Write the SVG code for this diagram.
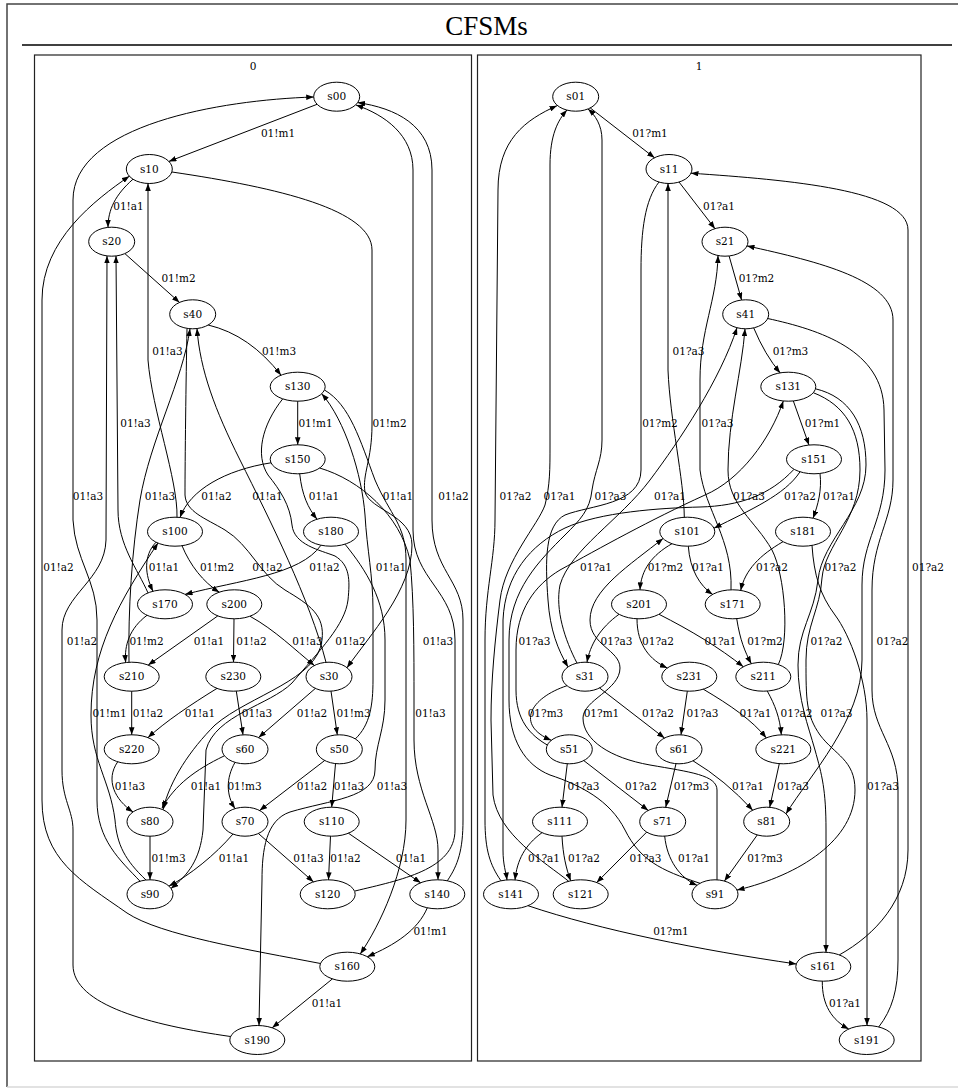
<svg xmlns="http://www.w3.org/2000/svg" width="958" height="1088" viewBox="0 0 958 1088">
<defs>
<marker id="a" markerWidth="7.5" markerHeight="5.6" refX="7.5" refY="2.8" orient="auto" markerUnits="userSpaceOnUse"><path d="M0,0 L7.5,2.8 L0,5.6 z" fill="#000"/></marker>
<style>
.frame{fill:none;stroke:#444;stroke-width:1.5}
.cl{fill:none;stroke:#222;stroke-width:1.2}
.n ellipse{fill:none;stroke:#000;stroke-width:1}
text{font-family:"DejaVu Serif","Liberation Serif",serif;font-size:10.5px;fill:#000;text-anchor:middle}
.title{font-family:"Liberation Serif","DejaVu Serif",serif;font-size:27px}
.e path{fill:none;stroke:#000;stroke-width:1;marker-end:url(#a)}
</style>
</defs>
<rect width="958" height="1088" fill="#fff"/>
<path class="frame" d="M960,4 L7,4 L7,1087"/>
<line x1="7" y1="1087" x2="960" y2="1087" stroke="#d8d8d8" stroke-width="1.5"/>
<text class="title" x="486.5" y="35">CFSMs</text>
<line x1="22" y1="45" x2="952" y2="45" stroke="#000" stroke-width="1.3"/>
<g id="cluster0"><rect class="cl" x="34.5" y="55" width="437" height="1006"/><text x="253" y="69.5">0</text></g>
<g id="cluster1"><rect class="cl" x="477.5" y="55" width="443.5" height="1006"/><text x="699" y="69.5">1</text></g>

<g id="connectors">
<g class="e">
<path d="M317.1,104.3 L168.9,161.4"/>
<path d="M133,179.2 C115,195 108,210 108,227.4"/>
<path d="M124.9,253.6 L179.5,302.4"/>
<path d="M208.2,325 Q250,335 281,375.2"/>
<path d="M297.7,401.2 L297.7,444.8"/>
<path d="M271,462.8 C225,470 190,490 180,517.4"/>
<path d="M299.7,473.8 C302,495 308,508 317,519.2"/>
<path d="M156,542.2 C143,556 145,575 153,591.3"/>
<path d="M182,545.7 C190,565 203,582 219.3,592.2"/>
<path d="M321,545.2 C300,575 240,580 185,594.4"/>
<path d="M147,615.3 C130,628 124,645 125.7,662.5"/>
<path d="M217.8,615.9 L148.2,665.1"/>
<path d="M234,618.8 L233.5,662.2"/>
<path d="M249.9,616.2 C275,630 295,650 314.4,665.5"/>
<path d="M131.7,691.2 L131.7,734.8"/>
<path d="M217,688.4 C190,705 165,722 148,737.6"/>
<path d="M236.3,691.1 L243,734.8"/>
<path d="M315.4,688.4 L258.6,737.6"/>
<path d="M331,691.1 L337.3,734.8"/>
<path d="M117.7,761.8 C105,780 115,800 133,811.9"/>
<path d="M224,756 C195,770 175,785 162,808"/>
<path d="M235,762.4 C226,778 226,795 235,808.6"/>
<path d="M324.7,760.5 L259.6,810.5"/>
<path d="M335.5,763.7 L331.7,807.2"/>
<path d="M150,836.2 L150,879.8"/>
<path d="M233,834 C215,855 190,875 169,886.1"/>
<path d="M258.4,833.5 L313.5,881.9"/>
<path d="M330.5,836.2 L328.5,879.8"/>
<path d="M348.4,833.2 L420.6,882.8"/>
<path d="M427.3,907.8 C418,930 395,945 367.3,956.7"/>
<path d="M332.4,978.9 L272.2,1027.8"/>
<path d="M172,172 C280,188 372,210 372,250 L372,425 C372,460 362,475 365,492 C370,510 412,515 412,545 C412,590 370,635 347,667.7"/>
<path d="M355,891 C400,880 455,870 455,830 L455,640 C455,590 413,580 413,530 L413,170 C413,135 385,115 356,105"/>
<path d="M447.3,880.8 C458,865 463,850 463,820 L463,620 C463,580 432,570 432,520 L432,170 C432,125 395,108 357.7,102.6"/>
<path d="M140,881.2 C120,860 97,840 97,800 L97,620 C97,580 75,560 73,520 L73,200 C73,125 220,100 313.7,97"/>
<path d="M230.5,1036.5 C150,1025 73,1005 73,965 L73,830 C73,810 62,800 62,770 L62,630 C62,595 105,580 106,540 L107,255.9"/>
<path d="M146,880 C125,860 117,845 115,820 C110,780 91,760 91,715 C91,650 120,600 158,543"/>
<path d="M148,592.9 C138,570 118,545 118,510 L116,255.9"/>
<path d="M177,517.3 C178,480 152,410 148,360 L148,183.5"/>
<path d="M129,662.3 C128,610 132,550 140,500 C150,440 183,380 190,328.7"/>
<path d="M326,662.3 C310,600 270,520 240,460 C215,410 200,370 197,328.5"/>
<path d="M187,328.8 C186,380 185,460 185,495 C186,512 205,518 225,530 C250,545 260,575 285,590 C310,605 325,615 322,640 C318,680 250,695 215,725 C190,750 170,780 163,809.7"/>
<path d="M282.7,398.9 C262,425 255,455 268,475 C280,490 290,505 292,525 C294,545 320,550 335,556 C350,565 350,580 348,600 C345,625 320,650 292,683 C270,705 215,715 206,750 L203,830 C200,860 188,875 171,888.4"/>
<path d="M355.3,738.9 C370,725 373,705 373,680 L373,610 C373,575 367,550 365,515 C362,475 345,420 321.7,393.8"/>
<path d="M320.5,963.5 C250,950 160,935 127,913 C80,880 42,860 42,800 L42,300 C42,240 95,200 129.3,176.2"/>
<path d="M345,544.2 C366,570 385,600 385,640 L385,700 C385,730 375,745 375,770 C375,798 330,800 290,812 C266,820 262,850 262,880 L259,1025.5"/>
<path d="M319.7,468 C360,480 400,515 410,560 C414,600 414,650 414,700 L414,740 C414,790 438,820 438,850 L438,879.8"/>
<path d="M324.5,390 C350,405 360,440 375,480 C390,515 406,525 406,560 L406,820 C406,870 380,925 360.3,953.9"/>
<path d="M590.2,107.9 L654.5,157.8"/>
<path d="M679,182 L715,228.7"/>
<path d="M729.1,256 L741.6,300"/>
<path d="M753.7,327.9 Q765,355 780.2,372.9"/>
<path d="M793.3,400.9 L809,445.1"/>
<path d="M800,471.8 C785,495 750,510 714,528.2"/>
<path d="M820,473.5 C822,490 818,505 813,518.2"/>
<path d="M672,543.7 C652,555 641,570 640,589.8"/>
<path d="M688.3,546.2 C690,570 700,586 712.7,594.4"/>
<path d="M783,541.7 C760,555 745,570 740.7,590.4"/>
<path d="M619,614.3 C600,628 590,645 587,662.2"/>
<path d="M637,618.8 C637,645 650,660 667.3,668"/>
<path d="M659,614.3 C690,630 720,648 743.3,666.8"/>
<path d="M736.7,618.6 C740,640 745,652 751.3,663.7"/>
<path d="M567,685.7 C530,698 515,725 551.3,740.3"/>
<path d="M599.5,687.9 L664.5,738.1"/>
<path d="M687.3,691.2 L681,734.8"/>
<path d="M703.3,689.2 C730,705 752,720 766.3,737.9"/>
<path d="M767.3,691.1 C775,705 780,718 781.3,734.8"/>
<path d="M567.3,763.7 L562,807.2"/>
<path d="M583.8,760.6 L648.2,810.4"/>
<path d="M676,763.7 L665.7,807.3"/>
<path d="M693,760.8 Q725,780 752.7,810.2"/>
<path d="M779.3,763.6 L769.7,807.3"/>
<path d="M542,832.7 C525,845 517,860 515,880"/>
<path d="M562,836.2 C563,855 566,868 570.7,880.8"/>
<path d="M646.7,832.1 L596.7,882.5"/>
<path d="M664.7,836.1 C667,860 680,878 697,885.3"/>
<path d="M757.3,834.9 L724.4,881.1"/>
<path d="M528,905.7 C600,930 700,950 796.3,964"/>
<path d="M822.3,981.2 C822,1005 832,1020 848.7,1029"/>
<path d="M659,182 C645,200 641,230 641,270 L641,470 C641,505 590,505 565,515 C545,525 545,560 548,600 C550,630 558,650 568,666.9"/>
<path d="M568.7,881.3 C545,862 498,835 493,795 L491,720 C491,680 495,640 500,600 C505,560 538,525 545,505 C550,485 550,470 550,445 L550,165 C550,135 558,120 567,110"/>
<path d="M501,880.8 C490,865 485,850 485,820 L485,640 C485,590 495,560 495,520 L498,190 C498,140 525,120 557,105.7"/>
<path d="M700,883.3 C660,870 640,860 625,830 C610,800 580,785 550,775 C525,765 509,740 509,700 L509,640 C509,590 540,560 565,535 C580,520 590,510 592,490 C595,470 602,460 602,440 L602,140 C602,125 595,115 588,109"/>
<path d="M878.7,1027 C892,1010 898,990 898,960 L898,790 C898,745 872,730 872,690 L872,590 C872,540 893,520 893,480 L893,320 C893,280 820,262 747,245.9"/>
<path d="M717,879.9 L717,790 C717,775 690,772 650,765 C610,758 583,740 583,718 C583,700 620,690 620,668 C620,650 590,645 590,620 C590,590 630,565 663,538.5"/>
<path d="M731,589.8 C733,540 705,510 700,470 L700,380 C700,330 717,300 718,255.5"/>
<path d="M684.3,517.3 C684,480 670,420 668,370 L668,183.5"/>
<path d="M778.3,664.6 C790,640 785,575 772,550 C755,520 728,505 728,470 C728,420 742,370 745,328.8"/>
<path d="M577,663.1 C565,640 555,610 560,585 C570,550 620,520 650,480 C680,440 720,380 737,327.7"/>
<path d="M767.7,318.5 C820,330 883,350 884,410 L885,470 C885,520 862,540 862,585 L862,660 C862,720 810,775 786,813.8"/>
<path d="M813.3,392.7 C845,405 860,430 860,470 C860,520 825,545 822,578 C820,610 806,625 806,660 C806,700 806,715 820,735 C835,755 855,760 855,790 C855,840 800,875 737,890.1"/>
<path d="M547.3,745 C530,735 516,720 516,690 L516,650 C516,610 535,585 560,570 C600,548 650,520 705,495 C740,480 770,440 783.3,401"/>
<path d="M812,545.4 C814,575 820,595 835,615 C850,635 867,680 867,720 L867,1025.5"/>
<path d="M839.3,954.9 C875,935 908,900 908,850 L908,230 C908,190 790,180 691,173.2"/>
<path d="M794,469.3 C770,495 740,506 700,507 C660,508 600,512 565,528 C530,545 505,575 503,620 L503,850 C503,865 506,872 507,880"/>
<path d="M815.5,388.8 C850,397 866,425 866,465 C866,510 822,540 818,580 C814,615 798,630 798,665 C798,700 808,725 815,750 C822,775 826,790 826,830 L826,952.3"/>
</g>
<g id="edge-labels">
<text x="278" y="136.7">01!m1</text>
<text x="128.5" y="209.7">01!a1</text>
<text x="178.5" y="281.7">01!m2</text>
<text x="279" y="354.7">01!m3</text>
<text x="167.5" y="354.7">01!a3</text>
<text x="135.5" y="426.7">01!a3</text>
<text x="315.5" y="426.7">01!m1</text>
<text x="389.5" y="426.7">01!m2</text>
<text x="88" y="499.7">01!a3</text>
<text x="160" y="499.7">01!a3</text>
<text x="216.5" y="499.7">01!a2</text>
<text x="267.5" y="499.7">01!a1</text>
<text x="324" y="499.7">01!a1</text>
<text x="398" y="499.7">01!a1</text>
<text x="453.5" y="499.7">01!a2</text>
<text x="58.5" y="570.7">01!a2</text>
<text x="164" y="570.7">01!a1</text>
<text x="217" y="570.7">01!m2</text>
<text x="267.5" y="570.7">01!a2</text>
<text x="324.5" y="570.7">01!a2</text>
<text x="391" y="570.7">01!a1</text>
<text x="82" y="644.7">01!a2</text>
<text x="146.5" y="644.7">01!m2</text>
<text x="209" y="644.7">01!a1</text>
<text x="251.5" y="644.7">01!a2</text>
<text x="307.5" y="644.7">01!a3</text>
<text x="350.5" y="644.7">01!a2</text>
<text x="438" y="644.7">01!a3</text>
<text x="109.5" y="716.7">01!m1</text>
<text x="148" y="716.7">01!a2</text>
<text x="200" y="716.7">01!a1</text>
<text x="257" y="716.7">01!a3</text>
<text x="312" y="716.7">01!a2</text>
<text x="353.5" y="716.7">01!m3</text>
<text x="430.5" y="716.7">01!a3</text>
<text x="130" y="789.7">01!a3</text>
<text x="206" y="789.7">01!a1</text>
<text x="244.5" y="789.7">01!m3</text>
<text x="312" y="789.7">01!a2</text>
<text x="349" y="789.7">01!a3</text>
<text x="392" y="789.7">01!a3</text>
<text x="168.5" y="861.7">01!m3</text>
<text x="234" y="861.7">01!a1</text>
<text x="308.5" y="861.7">01!a3</text>
<text x="345.5" y="861.7">01!a2</text>
<text x="411" y="861.7">01!a1</text>
<text x="430.5" y="934.7">01!m1</text>
<text x="327" y="1006.7">01!a1</text>
<text x="650" y="136.7">01?m1</text>
<text x="719" y="209.7">01?a1</text>
<text x="756.5" y="281.7">01?m2</text>
<text x="688.5" y="354.7">01?a3</text>
<text x="790.5" y="354.7">01?m3</text>
<text x="660" y="426.7">01?m2</text>
<text x="717.5" y="426.7">01?a3</text>
<text x="822.5" y="426.7">01?m1</text>
<text x="515.5" y="499.7">01?a2</text>
<text x="559.5" y="499.7">01?a1</text>
<text x="610.5" y="499.7">01?a3</text>
<text x="670" y="499.7">01?a1</text>
<text x="749" y="499.7">01?a3</text>
<text x="800" y="499.7">01?a2</text>
<text x="839" y="499.7">01?a1</text>
<text x="596" y="570.7">01?a1</text>
<text x="665.5" y="570.7">01?m2</text>
<text x="708" y="570.7">01?a1</text>
<text x="772" y="570.7">01?a2</text>
<text x="840.5" y="570.7">01?a2</text>
<text x="928" y="570.7">01?a2</text>
<text x="534.5" y="644.7">01?a3</text>
<text x="616.5" y="644.7">01?a3</text>
<text x="658" y="644.7">01?a2</text>
<text x="720.5" y="644.7">01?a1</text>
<text x="765" y="644.7">01?m2</text>
<text x="826.5" y="644.7">01?a2</text>
<text x="892.5" y="644.7">01?a2</text>
<text x="545.5" y="716.7">01?m3</text>
<text x="601.5" y="716.7">01?m1</text>
<text x="658" y="716.7">01?a2</text>
<text x="702.5" y="716.7">01?a3</text>
<text x="755.5" y="716.7">01?a1</text>
<text x="796.5" y="716.7">01?a2</text>
<text x="836.5" y="716.7">01?a3</text>
<text x="583.5" y="789.7">01?a3</text>
<text x="641" y="789.7">01?a2</text>
<text x="691.5" y="789.7">01?m3</text>
<text x="748" y="789.7">01?a1</text>
<text x="793" y="789.7">01?a3</text>
<text x="883" y="789.7">01?a3</text>
<text x="544" y="861.7">01?a1</text>
<text x="584" y="861.7">01?a2</text>
<text x="645.5" y="861.7">01?a3</text>
<text x="694" y="861.7">01?a1</text>
<text x="765" y="861.7">01?m3</text>
<text x="671" y="934.7">01?m1</text>
<text x="845" y="1006.7">01?a1</text>
</g>
</g>

<g class="n" id="s00"><ellipse cx="336.7" cy="96.7" rx="23" ry="14.5"/><text x="336.7" y="100.4">s00</text></g>
<g class="n" id="s10"><ellipse cx="149.3" cy="169" rx="23" ry="14.5"/><text x="149.3" y="172.7">s10</text></g>
<g class="n" id="s20"><ellipse cx="111.7" cy="241.7" rx="23" ry="14.5"/><text x="111.7" y="245.4">s20</text></g>
<g class="n" id="s40"><ellipse cx="192.7" cy="314.3" rx="23" ry="14.5"/><text x="192.7" y="318">s40</text></g>
<g class="n" id="s130"><ellipse cx="297.7" cy="386.7" rx="27.5" ry="14.5"/><text x="297.7" y="390.4">s130</text></g>
<g class="n" id="s150"><ellipse cx="297.7" cy="459.3" rx="27.5" ry="14.5"/><text x="297.7" y="463">s150</text></g>
<g class="n" id="s100"><ellipse cx="175" cy="531.7" rx="27.5" ry="14.5"/><text x="175" y="535.4">s100</text></g>
<g class="n" id="s180"><ellipse cx="331" cy="531.7" rx="27.5" ry="14.5"/><text x="331" y="535.4">s180</text></g>
<g class="n" id="s170"><ellipse cx="165" cy="604.3" rx="27.5" ry="14.5"/><text x="165" y="608">s170</text></g>
<g class="n" id="s200"><ellipse cx="234.3" cy="604.3" rx="27.5" ry="14.5"/><text x="234.3" y="608">s200</text></g>
<g class="n" id="s210"><ellipse cx="131.7" cy="676.7" rx="27.5" ry="14.5"/><text x="131.7" y="680.4">s210</text></g>
<g class="n" id="s230"><ellipse cx="233.3" cy="676.7" rx="27.5" ry="14.5"/><text x="233.3" y="680.4">s230</text></g>
<g class="n" id="s30"><ellipse cx="329" cy="676.7" rx="23" ry="14.5"/><text x="329" y="680.4">s30</text></g>
<g class="n" id="s220"><ellipse cx="131.7" cy="749.3" rx="27.5" ry="14.5"/><text x="131.7" y="753">s220</text></g>
<g class="n" id="s60"><ellipse cx="245" cy="749.3" rx="23" ry="14.5"/><text x="245" y="753">s60</text></g>
<g class="n" id="s50"><ellipse cx="339.3" cy="749.3" rx="23" ry="14.5"/><text x="339.3" y="753">s50</text></g>
<g class="n" id="s80"><ellipse cx="150" cy="821.7" rx="23" ry="14.5"/><text x="150" y="825.4">s80</text></g>
<g class="n" id="s70"><ellipse cx="245" cy="821.7" rx="23" ry="14.5"/><text x="245" y="825.4">s70</text></g>
<g class="n" id="s110"><ellipse cx="331.7" cy="821.7" rx="27.5" ry="14.5"/><text x="331.7" y="825.4">s110</text></g>
<g class="n" id="s90"><ellipse cx="150" cy="894.3" rx="23" ry="14.5"/><text x="150" y="898">s90</text></g>
<g class="n" id="s120"><ellipse cx="327.7" cy="894.3" rx="27.5" ry="14.5"/><text x="327.7" y="898">s120</text></g>
<g class="n" id="s140"><ellipse cx="437.3" cy="894.3" rx="27.5" ry="14.5"/><text x="437.3" y="898">s140</text></g>
<g class="n" id="s160"><ellipse cx="347.3" cy="966.7" rx="27.5" ry="14.5"/><text x="347.3" y="970.4">s160</text></g>
<g class="n" id="s190"><ellipse cx="257.3" cy="1040" rx="27.5" ry="14.5"/><text x="257.3" y="1043.7">s190</text></g>
<g class="n" id="s01"><ellipse cx="575.7" cy="96.7" rx="23" ry="14.5"/><text x="575.7" y="100.4">s01</text></g>
<g class="n" id="s11"><ellipse cx="669" cy="169" rx="23" ry="14.5"/><text x="669" y="172.7">s11</text></g>
<g class="n" id="s21"><ellipse cx="725" cy="241.7" rx="23" ry="14.5"/><text x="725" y="245.4">s21</text></g>
<g class="n" id="s41"><ellipse cx="745.7" cy="314.3" rx="23" ry="14.5"/><text x="745.7" y="318">s41</text></g>
<g class="n" id="s131"><ellipse cx="788.3" cy="386.7" rx="27.5" ry="14.5"/><text x="788.3" y="390.4">s131</text></g>
<g class="n" id="s151"><ellipse cx="814" cy="459.3" rx="27.5" ry="14.5"/><text x="814" y="463">s151</text></g>
<g class="n" id="s101"><ellipse cx="687.3" cy="531.7" rx="27.5" ry="14.5"/><text x="687.3" y="535.4">s101</text></g>
<g class="n" id="s181"><ellipse cx="803" cy="531.7" rx="27.5" ry="14.5"/><text x="803" y="535.4">s181</text></g>
<g class="n" id="s201"><ellipse cx="639" cy="604.3" rx="27.5" ry="14.5"/><text x="639" y="608">s201</text></g>
<g class="n" id="s171"><ellipse cx="732.7" cy="604.3" rx="27.5" ry="14.5"/><text x="732.7" y="608">s171</text></g>
<g class="n" id="s31"><ellipse cx="585" cy="676.7" rx="23" ry="14.5"/><text x="585" y="680.4">s31</text></g>
<g class="n" id="s231"><ellipse cx="689.3" cy="676.7" rx="27.5" ry="14.5"/><text x="689.3" y="680.4">s231</text></g>
<g class="n" id="s211"><ellipse cx="763.3" cy="676.7" rx="27.5" ry="14.5"/><text x="763.3" y="680.4">s211</text></g>
<g class="n" id="s51"><ellipse cx="569.3" cy="749.3" rx="23" ry="14.5"/><text x="569.3" y="753">s51</text></g>
<g class="n" id="s61"><ellipse cx="679" cy="749.3" rx="23" ry="14.5"/><text x="679" y="753">s61</text></g>
<g class="n" id="s221"><ellipse cx="783.3" cy="749.3" rx="27.5" ry="14.5"/><text x="783.3" y="753">s221</text></g>
<g class="n" id="s111"><ellipse cx="560" cy="821.7" rx="27.5" ry="14.5"/><text x="560" y="825.4">s111</text></g>
<g class="n" id="s71"><ellipse cx="662.7" cy="821.7" rx="23" ry="14.5"/><text x="662.7" y="825.4">s71</text></g>
<g class="n" id="s81"><ellipse cx="766.7" cy="821.7" rx="23" ry="14.5"/><text x="766.7" y="825.4">s81</text></g>
<g class="n" id="s141"><ellipse cx="511" cy="894.3" rx="27.5" ry="14.5"/><text x="511" y="898">s141</text></g>
<g class="n" id="s121"><ellipse cx="580.7" cy="894.3" rx="27.5" ry="14.5"/><text x="580.7" y="898">s121</text></g>
<g class="n" id="s91"><ellipse cx="715" cy="894.3" rx="23" ry="14.5"/><text x="715" y="898">s91</text></g>
<g class="n" id="s161"><ellipse cx="823.3" cy="966.7" rx="27.5" ry="14.5"/><text x="823.3" y="970.4">s161</text></g>
<g class="n" id="s191"><ellipse cx="866.7" cy="1040" rx="27.5" ry="14.5"/><text x="866.7" y="1043.7">s191</text></g>
</svg>
